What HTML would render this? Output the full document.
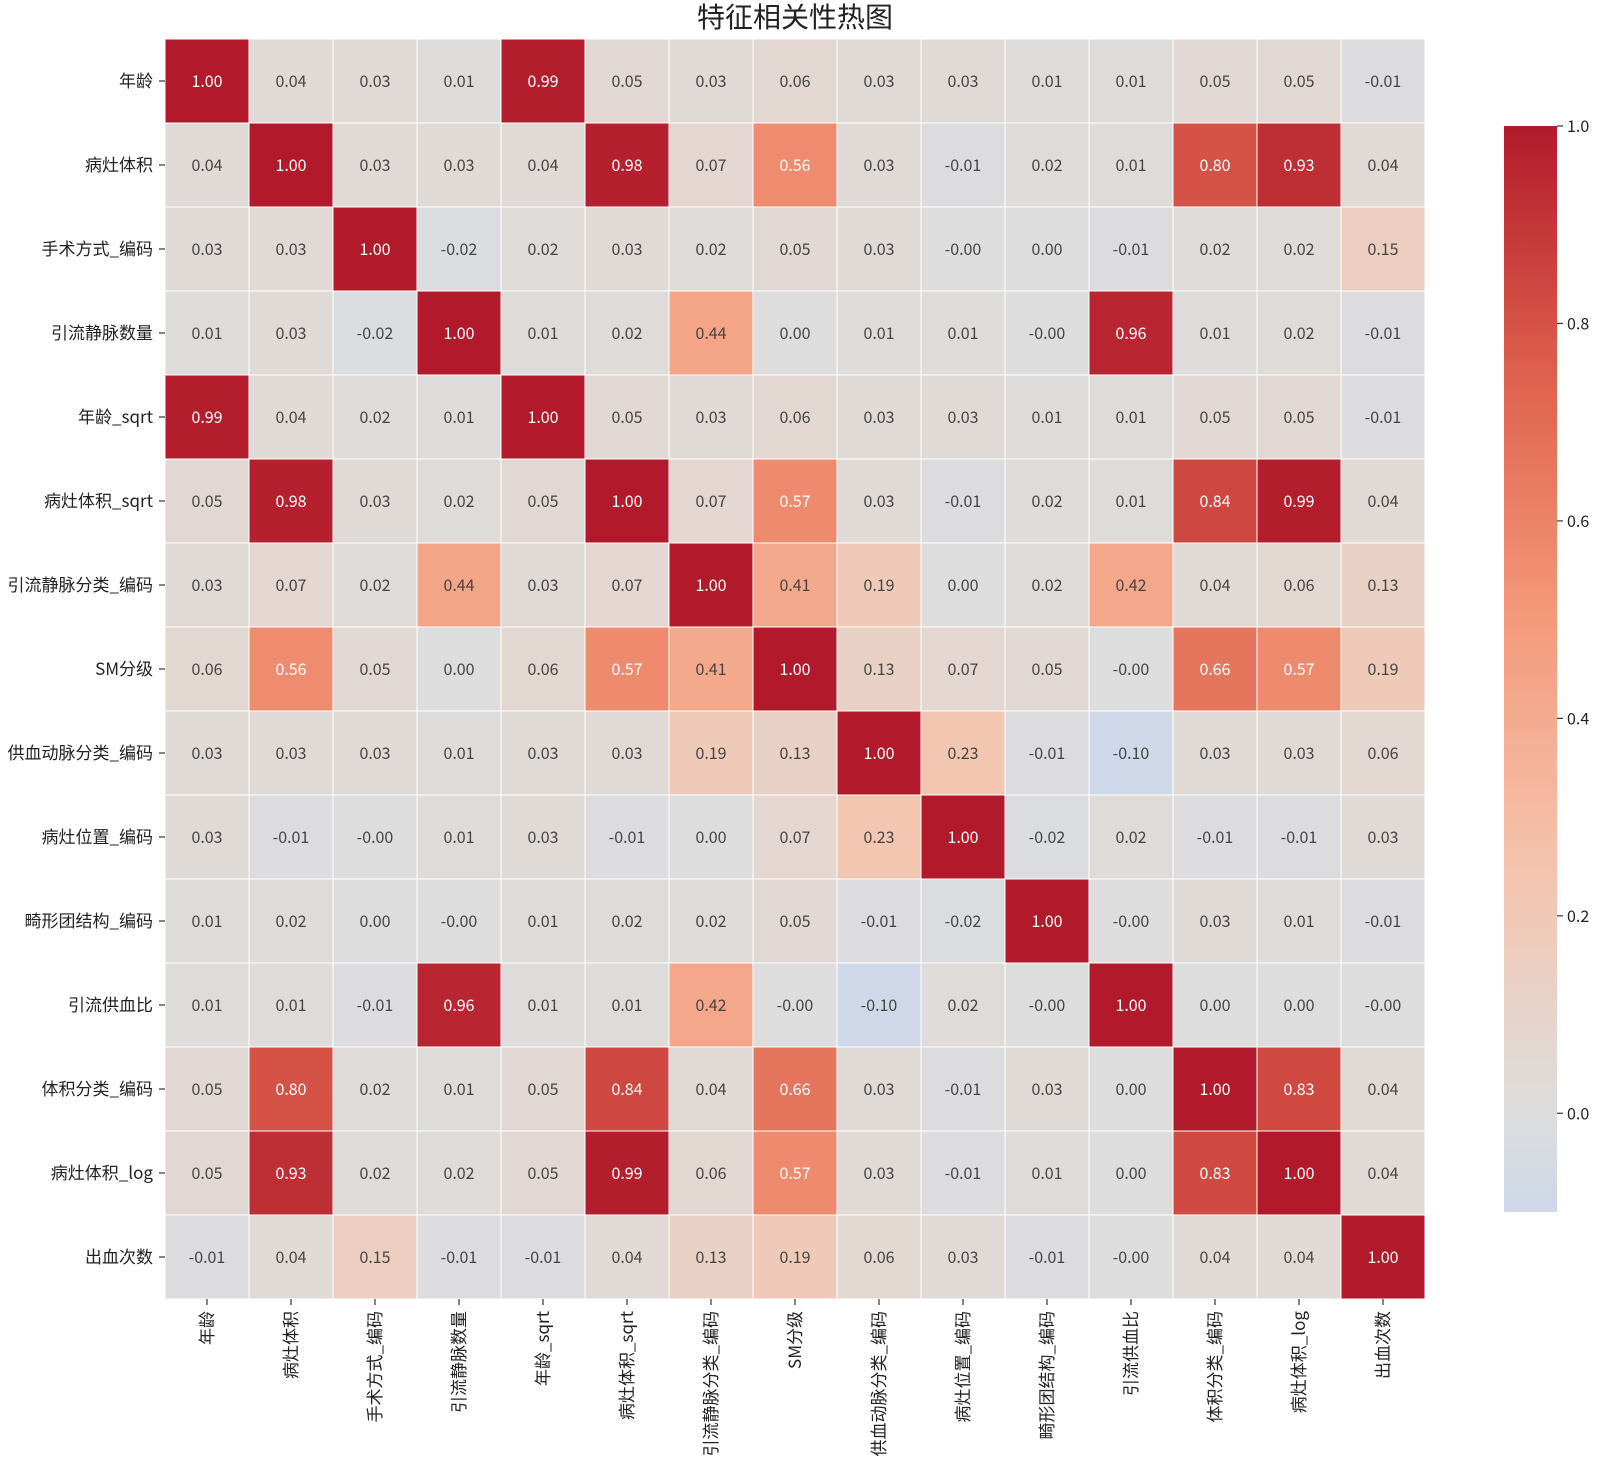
<!DOCTYPE html>
<html><head><meta charset="utf-8"><style>
html,body{margin:0;padding:0;background:#fff;}
svg text{font-family:"Liberation Sans","WenQuanYi Zen Hei","Noto Sans CJK SC",sans-serif;}
.cn{font-family:"WenQuanYi Zen Hei","Noto Sans CJK SC",sans-serif;}
</style></head><body>
<svg id="chart" width="1599" height="1465" xmlns="http://www.w3.org/2000/svg"></svg>
<script>
const labels = ["年龄","病灶体积","手术方式_编码","引流静脉数量","年龄_sqrt","病灶体积_sqrt","引流静脉分类_编码","SM分级","供血动脉分类_编码","病灶位置_编码","畸形团结构_编码","引流供血比","体积分类_编码","病灶体积_log","出血次数"];
const r0 = [1.00,0.04,0.03,0.01,0.99,0.05,0.03,0.06,0.03,0.03,0.01,0.01,0.05,0.05,-0.01];
const r1 = [0.04,1.00,0.03,0.03,0.04,0.98,0.07,0.56,0.03,-0.01,0.02,0.01,0.80,0.93,0.04];
const r2 = [0.03,0.03,1.00,-0.02,0.02,0.03,0.02,0.05,0.03,-0.001,0.00,-0.01,0.02,0.02,0.15];
const r3 = [0.01,0.03,-0.02,1.00,0.01,0.02,0.44,0.00,0.01,0.01,-0.001,0.96,0.01,0.02,-0.01];
const r4 = [0.99,0.04,0.02,0.01,1.00,0.05,0.03,0.06,0.03,0.03,0.01,0.01,0.05,0.05,-0.01];
const r5 = [0.05,0.98,0.03,0.02,0.05,1.00,0.07,0.57,0.03,-0.01,0.02,0.01,0.84,0.99,0.04];
const r6 = [0.03,0.07,0.02,0.44,0.03,0.07,1.00,0.41,0.19,0.00,0.02,0.42,0.04,0.06,0.13];
const r7 = [0.06,0.56,0.05,0.00,0.06,0.57,0.41,1.00,0.13,0.07,0.05,-0.001,0.66,0.57,0.19];
const r8 = [0.03,0.03,0.03,0.01,0.03,0.03,0.19,0.13,1.00,0.23,-0.01,-0.10,0.03,0.03,0.06];
const r9 = [0.03,-0.01,-0.001,0.01,0.03,-0.01,0.00,0.07,0.23,1.00,-0.02,0.02,-0.01,-0.01,0.03];
const r10 = [0.01,0.02,0.00,-0.001,0.01,0.02,0.02,0.05,-0.01,-0.02,1.00,-0.001,0.03,0.01,-0.01];
const r11 = [0.01,0.01,-0.01,0.96,0.01,0.01,0.42,-0.001,-0.10,0.02,-0.001,1.00,0.00,0.00,-0.001];
const r12 = [0.05,0.80,0.02,0.01,0.05,0.84,0.04,0.66,0.03,-0.01,0.03,0.00,1.00,0.83,0.04];
const r13 = [0.05,0.93,0.02,0.02,0.05,0.99,0.06,0.57,0.03,-0.01,0.01,0.00,0.83,1.00,0.04];
const r14 = [-0.01,0.04,0.15,-0.01,-0.01,0.04,0.13,0.19,0.06,0.03,-0.01,-0.001,0.04,0.04,1.00];
const matrix = [r0,r1,r2,r3,r4,r5,r6,r7,r8,r9,r10,r11,r12,r13,r14];
const cbTicks = [0.0,0.2,0.4,0.6,0.8,1.0];
const vmin = -0.10, vmax = 1.0;

const NS = "http://www.w3.org/2000/svg";
const svg = document.getElementById("chart");
function mk(tag, attrs, parent){const e=document.createElementNS(NS,tag);for(const k in attrs)e.setAttribute(k,attrs[k]);(parent||svg).appendChild(e);return e;}

const cw = [[0,59,76,192],[0.125,98,130,234],[0.25,141,176,254],[0.375,184,208,249],[0.5,221,221,221],[0.625,245,196,173],[0.75,244,154,123],[0.875,222,96,77],[1,178,26,43]];
function cmap(t){t=Math.max(0,Math.min(1,t));for(let i=1;i<cw.length;i++){if(t<=cw[i][0]){const a=cw[i-1],b=cw[i];const f=(t-a[0])/(b[0]-a[0]);return `rgb(${Math.round(a[1]+f*(b[1]-a[1]))},${Math.round(a[2]+f*(b[2]-a[2]))},${Math.round(a[3]+f*(b[3]-a[3]))})`;}}return "rgb(178,26,43)";}
function color(v){return cmap(0.5+0.5*v);}

const X0=165, Y0=39, N=labels.length, CW=84;
const xs = i => X0 + i*CW;
const ys = j => Y0 + j*CW;

const title = mk("text",{x:795,y:27,"text-anchor":"middle","font-size":28,fill:"#222",class:"cn"});
title.textContent="特征相关性热图";



for(let r=0;r<N;r++){
  for(let c=0;c<N;c++){
    const v=matrix[r][c];
    const rect=mk("rect",{x:xs(c),y:ys(r),width:CW,height:CW,fill:color(v),stroke:"#fff","stroke-width":1});
    
    
    const t=mk("text",{x:xs(c)+CW/2,y:ys(r)+CW/2+6,"text-anchor":"middle","font-size":16,fill:v>0.5?"#ffffff":"#444444",class:"cn"});
    t.textContent=v.toFixed(2);
    
    
  }
}
for(let i=0;i<N;i++){
  const yt=mk("line",{x1:X0-6,x2:X0,y1:ys(i)+CW/2,y2:ys(i)+CW/2,stroke:"#333","stroke-width":1.2});
  
  
  const yl=mk("text",{x:X0-12,y:ys(i)+CW/2+6,"text-anchor":"end","font-size":17,fill:"#222",class:"cn"});
  yl.textContent=labels[i];
  
  
  const xt=mk("line",{x1:xs(i)+CW/2,x2:xs(i)+CW/2,y1:Y0+N*CW,y2:Y0+N*CW+6,stroke:"#333","stroke-width":1.2});
  
  
  const cx=xs(i)+CW/2+6, cy=Y0+N*CW+12;
  const xl=mk("text",{x:cx,y:cy,"text-anchor":"end","font-size":17,fill:"#222",class:"cn",transform:`rotate(-90 ${cx} ${cy})`});
  xl.textContent=labels[i];
  
  
}

const CBX=1504, CBW=53, CBT=126, CBB=1212;
const cbY = v => CBB - (v - vmin)/(vmax - vmin)*(CBB-CBT);
const defs=mk("defs",{});
const grad=mk("linearGradient",{id:"cbg",x1:0,y1:1,x2:0,y2:0},defs);
for(let k=0;k<=20;k++){const v=vmin+(vmax-vmin)*k/20;mk("stop",{offset:(k/20),"stop-color":color(v)},grad);}
const cb=mk("rect",{x:CBX,y:CBT,width:CBW,height:CBB-CBT,fill:"url(#cbg)"});


cbTicks.forEach(v=>{
  const y=cbY(v);
  const tl=mk("line",{x1:CBX+CBW,x2:CBX+CBW+6,y1:y,y2:y,stroke:"#333","stroke-width":1.2});
  
  
  const tt=mk("text",{x:CBX+CBW+10,y:y+6,"font-size":16,fill:"#222",class:"cn"});
  tt.textContent=v.toFixed(1);
  
  
});
</script>
</body></html>
